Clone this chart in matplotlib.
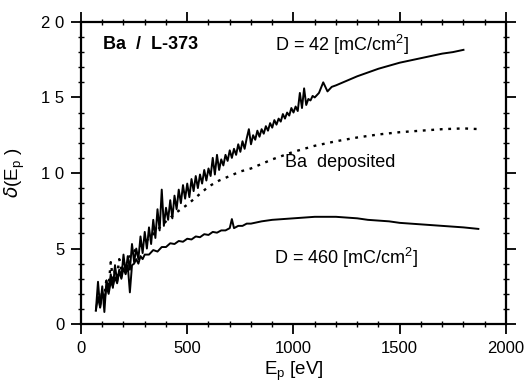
import matplotlib
matplotlib.use("Agg")
import matplotlib.pyplot as plt
from matplotlib.ticker import MultipleLocator

plt.rcParams['font.family'] = ['Liberation Sans', 'DejaVu Sans']

# D = 42 mC/cm^2 (solid, noisy)
x42 = list(range(70, 1101, 10)) + [1120, 1140, 1160, 1180, 1200] + list(range(1250, 1801, 50))
y42 = [0.9, 2.8, 1.1, 2.5, 0.8, 2.9, 2.2, 3.3, 2.4, 3.9,
       2.8, 3.6, 3.1, 4.6, 3.4, 4.5, 3.6, 5.3, 4.1, 5.0,
       4.3, 5.8, 4.7, 6.1, 5.0, 6.4, 5.3, 6.9, 5.7, 7.6,
       6.2, 8.9, 6.5, 7.7, 6.9, 8.2, 7.0, 8.5, 7.6, 8.9,
       8.0, 9.2, 8.3, 9.3, 8.4, 9.6, 8.8, 9.8, 9.0, 9.9,
       9.3, 10.2, 9.5, 10.3, 9.8, 11.0, 9.9, 11.2, 10.2, 10.9,
       10.5, 11.2, 10.8, 11.5, 11.0, 11.6, 11.2, 11.9, 11.4, 12.1,
       11.6, 12.3, 12.9, 11.9, 12.5, 12.2, 12.8, 12.4, 12.9, 12.6,
       13.1, 12.8, 13.3, 13.0, 13.5, 13.2, 13.6, 13.4, 13.9, 13.6,
       14.0, 13.8, 14.3, 14.0, 14.4, 14.1, 15.3, 14.3, 15.6, 14.5,
       14.9, 14.8, 15.1, 15.0,
       15.3, 16.0, 15.4, 15.7, 15.8,
       16.1, 16.4, 16.65, 16.9, 17.1, 17.3, 17.45, 17.6, 17.75, 17.9,
       18.0, 18.15]

# Ba deposited (dotted)
xdep = [90, 100, 110, 120, 130, 140, 150, 160, 170, 180, 190, 200, 220, 240, 260,
        280, 300, 350, 400, 450, 500, 550, 600, 650, 700, 750, 800, 850, 900,
        1000, 1100, 1200, 1300, 1400, 1500, 1600, 1700, 1800, 1880]
ydep = [1.3, 2.2, 1.8, 3.0, 2.5, 4.1, 3.0, 3.6, 3.2, 4.3, 3.6, 4.0, 4.4, 4.6, 5.0,
        5.1, 5.4, 6.1, 6.8, 7.4, 7.9, 8.5, 9.1, 9.5, 9.8, 10.1, 10.3, 10.6, 10.9,
        11.4, 11.8, 12.1, 12.35, 12.55, 12.7, 12.8, 12.9, 12.95, 12.9]

# D = 460 mC/cm^2 (solid)
x460 = [70, 80, 90, 100, 110, 120, 130, 140, 150, 160, 170, 180, 190, 200, 210,
        220, 230, 240, 250, 260, 270, 280, 290, 300, 320, 340, 360, 380, 400, 420,
        440, 460, 480, 500, 520, 540, 560, 580, 600, 620, 640, 660, 680, 700, 710,
        720, 740, 760, 780, 800, 850, 900, 950, 1000, 1050, 1100, 1150, 1200, 1250,
        1300, 1350, 1400, 1450, 1500, 1550, 1600, 1650, 1700, 1750, 1800, 1870]
y460 = [0.9, 1.8, 1.1, 2.1, 1.5, 2.5, 2.0, 2.8, 2.5, 3.1, 2.7, 3.5, 3.0, 3.7, 3.3,
        3.9, 2.1, 3.9, 4.0, 4.3, 4.0, 4.5, 4.3, 4.6, 4.6, 4.9, 4.8, 5.1, 5.1, 5.35,
        5.3, 5.5, 5.45, 5.65, 5.6, 5.8, 5.75, 5.95, 5.9, 6.1, 6.05, 6.2, 6.2, 6.35, 6.95,
        6.35, 6.5, 6.5, 6.65, 6.65, 6.8, 6.9, 6.95, 7.0, 7.05, 7.1, 7.1, 7.1, 7.05,
        7.0, 6.9, 6.85, 6.8, 6.7, 6.65, 6.6, 6.55, 6.5, 6.45, 6.4, 6.3]

xticks = [0, 500, 1000, 1500, 2000]
xticklabels = ["0", "500", "1000", "1500", "2000"]
yticks = [0, 5, 10, 15, 20]
yticklabels = ["0", "5", "1 0", "1 5", "2 0"]

fig = plt.figure(figsize=(5.27, 3.84), dpi=100)
ax = fig.add_axes([0.1537, 0.156, 0.8064, 0.787])

ax.plot(x42, y42, color='black', lw=1.4)
ax.plot(xdep, ydep, color='black', lw=1.7, linestyle=(0, (1.2, 2.4)))
ax.plot(x460, y460, color='black', lw=1.4)

ax.set_xlim(0, 2000)
ax.set_ylim(0, 20)
ax.set_xticks(xticks)
ax.set_xticklabels(xticklabels)
ax.set_yticks(yticks)
ax.set_yticklabels(yticklabels)
ax.xaxis.set_minor_locator(MultipleLocator(100))
ax.yaxis.set_minor_locator(MultipleLocator(1))
ax.tick_params(which='major', direction='out', length=7, width=1.3,
               top=True, right=True, labelsize=12, pad=5)
ax.tick_params(which='minor', direction='inout', length=5, width=1.0,
               top=True, right=True)
for s in ax.spines.values():
    s.set_linewidth(1.6)

ax.set_xlabel(r"E$_\mathregular{p}$ [eV]", fontsize=13.5, labelpad=3)
ax.set_ylabel(r"$\delta$(E$_\mathregular{p}$ )", fontsize=13.5, labelpad=10)

ax.text(104, 18.5, "Ba  /  L-373", fontsize=13, fontweight='bold', va='center')
ax.text(913, 18.5, r"D = 42 [mC/cm$^\mathregular{2}$]", fontsize=13, va='center')
ax.text(960, 10.7, "Ba  deposited", fontsize=13, va='center')
ax.text(908, 4.4, r"D = 460 [mC/cm$^\mathregular{2}$]", fontsize=13, va='center')

fig.savefig("out.png", dpi=100)
